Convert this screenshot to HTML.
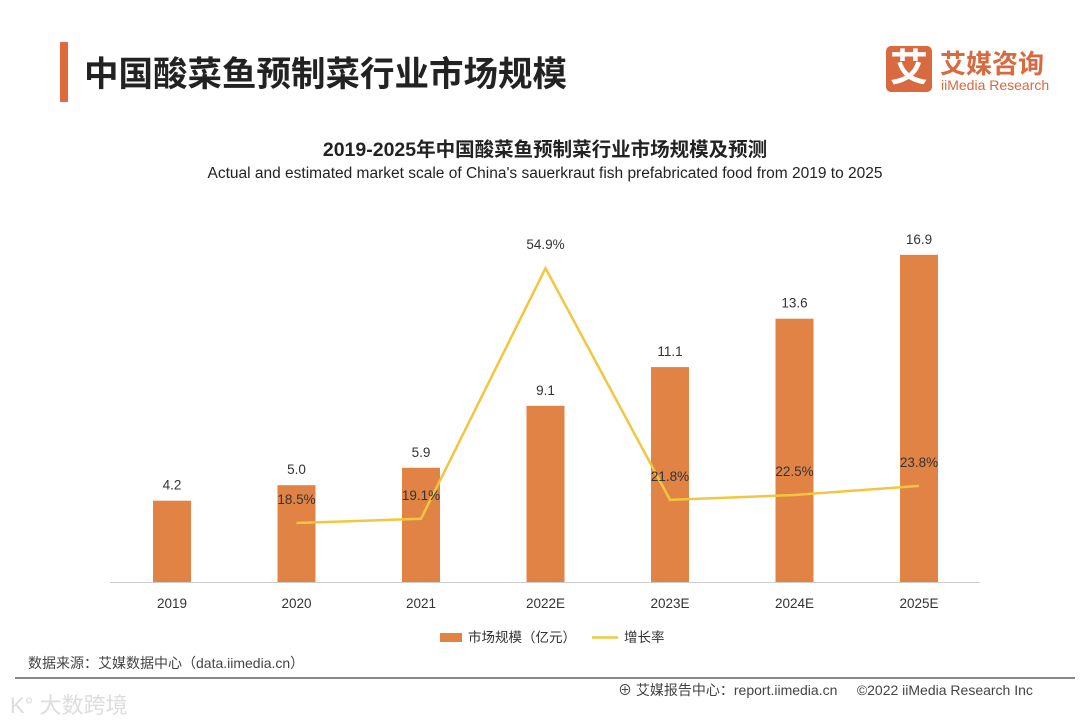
<!DOCTYPE html>
<html><head><meta charset="utf-8"><style>
body{margin:0;width:1080px;height:723px;background:#fff;overflow:hidden;font-family:"Liberation Sans","Noto Sans CJK SC",sans-serif;position:relative}
.a{position:absolute;white-space:nowrap}
</style></head><body>
<div class="a" style="left:60px;top:42px;width:8px;height:60px;background:#e06a3b"></div>
<div class="a" style="left:84px;top:46px;font-size:34.5px;font-weight:bold;color:#222">中国酸菜鱼预制菜行业市场规模</div>
<div class="a" style="left:886px;top:46px;width:46px;height:46px;background:#d9693f;border-radius:5px;color:#fff;font-size:38px;font-weight:bold;text-align:center;line-height:46px">艾</div>
<div class="a" style="left:940px;top:44px;font-size:26px;font-weight:bold;color:#d9693f">艾媒咨询</div>
<div class="a" style="left:941px;top:77px;font-size:14px;color:#d9693f">iiMedia Research</div>
<div class="a" style="left:0;width:1090px;text-align:center;top:133px;font-size:19.5px;font-weight:bold;color:#222">2019-2025年中国酸菜鱼预制菜行业市场规模及预测</div>
<div class="a" style="left:0;width:1090px;text-align:center;top:165px;font-size:15.5px;color:#222">Actual and estimated market scale of China's sauerkraut fish prefabricated food from 2019 to 2025</div>
<svg class="a" style="left:0;top:0" width="1080" height="723" id="chart"></svg>
<div class="a" style="left:28px;top:653px;font-size:14px;color:#444">数据来源：艾媒数据中心（data.iimedia.cn）</div>
<div class="a" style="left:15px;top:677px;width:1060px;height:2px;background:#888"></div>
<div class="a" style="left:618px;top:680px;font-size:14px;color:#444">⊕ 艾媒报告中心：report.iimedia.cn&nbsp;&nbsp;&nbsp;&nbsp;&nbsp;©2022 iiMedia Research Inc</div>
<div class="a" style="left:10px;top:688px;font-size:22px;color:#ddd">K° 大数跨境</div>
<script>
const categories=["2019","2020","2021","2022E","2023E","2024E","2025E"];
const marketSize=[4.2,5.0,5.9,9.1,11.1,13.6,16.9];
const growthRate=[null,18.5,19.1,54.9,21.8,22.5,23.8];
const svg=document.getElementById('chart');
const NS='http://www.w3.org/2000/svg';
const x=i=>172+i*124.5;
const yb=v=>582-v*19.36;
const yl=v=>652.5-v*7.0;
function mk(t,a,txt){const e=document.createElementNS(NS,t);for(const k in a)e.setAttribute(k,a[k]);if(txt!=null)e.textContent=txt;svg.appendChild(e);return e;}
let ax=mk('line',{x1:110,x2:980,y1:582.5,y2:582.5,stroke:'#ccc'});


categories.forEach((c,i)=>{
 let b=mk('rect',{x:x(i)-19,y:yb(marketSize[i]),width:38,height:582-yb(marketSize[i]),fill:'#e08344'});
 
 
 let l=mk('text',{x:x(i),y:yb(marketSize[i])-11,'text-anchor':'middle','font-size':13.5,fill:'#333'},marketSize[i].toFixed(1));
 
 
 let t=mk('text',{x:x(i),y:608,'text-anchor':'middle','font-size':13.5,fill:'#333'},c);
 
 
});
let pts=[];growthRate.forEach((g,i)=>{if(g!=null)pts.push(x(i)+','+yl(g));});
let pl=mk('polyline',{points:pts.join(' '),fill:'none',stroke:'#f3c63f','stroke-width':2.5});


growthRate.forEach((g,i)=>{if(g==null)return;
 let t=mk('text',{x:x(i),y:yl(g)-19,'text-anchor':'middle','font-size':13.5,fill:'#333'},g.toFixed(1)+'%');
 
 
});
let lr=mk('rect',{x:440,y:633,width:22,height:9,fill:'#e08344'});


let lt=mk('text',{x:468,y:642,'font-size':13.5,fill:'#333'},'市场规模（亿元）');


let ll=mk('line',{x1:592,x2:618,y1:637.5,y2:637.5,stroke:'#f3c63f','stroke-width':2.5});


let lt2=mk('text',{x:624,y:642,'font-size':13.5,fill:'#333'},'增长率');


</script>
</body></html>
